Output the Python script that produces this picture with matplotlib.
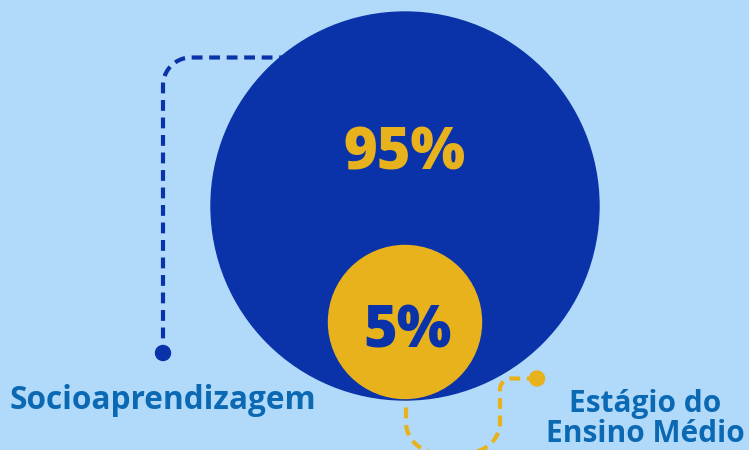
import matplotlib
matplotlib.use("Agg")
import matplotlib.pyplot as plt
from matplotlib.patches import Circle
import numpy as np

# data
categories = ["Socioaprendizagem", "Estágio do\nEnsino Médio"]
values = [95, 5]
value_labels = [f"{v}%" for v in values]

BG = "#b1dafa"
BLUE = "#0a33aa"
YELLOW = "#e8b21d"
TEXT = "#0b69b4"
FONT = ["Open Sans", "DejaVu Sans"]

W, H = 749, 450
fig = plt.figure(figsize=(W / 100, H / 100), dpi=100)
fig.patch.set_facecolor(BG)
ax = fig.add_axes([0, 0, 1, 1])
ax.set_xlim(0, W)
ax.set_ylim(H, 0)
ax.set_aspect("equal")
ax.axis("off")
ax.set_facecolor(BG)

def dashed(path_pts, color, z):
    xs, ys = zip(*path_pts)
    ax.plot(xs, ys, color=color, lw=3.0, dashes=(2.6, 1.6), solid_capstyle="butt",
            dash_capstyle="butt", zorder=z)

def arc(cx, cy, r, a0, a1, n=30):
    t = np.radians(np.linspace(a0, a1, n))
    return list(zip(cx + r * np.cos(t), cy + r * np.sin(t)))

# blue connector
R1 = 28
pts = [(290, 57.5), (163 + R1, 57.5)]
pts += arc(163 + R1, 57.5 + R1, R1, 270, 180)
pts += [(163, 353)]
dashed(pts, BLUE, 1)
ax.add_patch(Circle((163, 353), 7.5, color=BLUE, zorder=2))

# yellow connector
R2 = 30
R3 = 11
pts = [(406, 390), (406, 422)]
pts += arc(406 + R2, 422, R2, 180, 90)
pts += [(500 - R2, 422 + R2)]
pts += arc(500 - R2, 422, R2, 90, 0)
pts += [(500, 378.5 + R3)]
pts += arc(500 + R3, 378.5 + R3, R3, 180, 270)
pts += [(537, 378.5)]
dashed(pts, YELLOW, 1)
ax.add_patch(Circle((537, 378.5), 7.5, color=YELLOW, zorder=2))

# circles
ax.add_patch(Circle((405, 206), 194, color=BLUE, zorder=3))
ax.add_patch(Circle((405, 322), 76.5, color=YELLOW, zorder=4))

ax.text(405, 170, value_labels[0], color=YELLOW, fontsize=41.5, fontweight="heavy",
        family=FONT, ha="center", va="baseline", zorder=5)
ax.text(407, 348, value_labels[1], color=BLUE, fontsize=41.5, fontweight="heavy",
        family=FONT, ha="center", va="baseline", zorder=5)

ax.text(163, 409, categories[0], color=TEXT, fontsize=22.8, fontweight="bold",
        family=FONT, ha="center", va="baseline", zorder=5)
ax.text(645, 442, categories[1], color=TEXT, fontsize=21.5, fontweight="bold",
        family=FONT, ha="center", va="baseline", multialignment="center",
        linespacing=1.0, zorder=5)

fig.savefig("out.png", dpi=100, facecolor=BG)
